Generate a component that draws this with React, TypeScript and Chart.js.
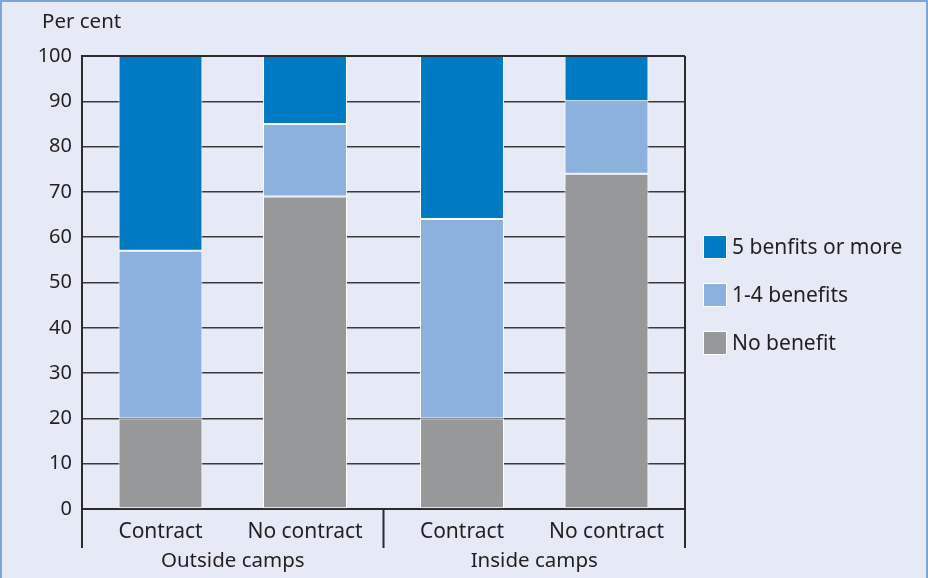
import React, { useEffect, useRef } from "react";
import { Chart, registerables } from "chart.js";

Chart.register(...registerables);

const groups = ["Outside camps", "Inside camps"];
const contractTypes = ["Contract", "No contract"];
const seriesNames = ["No benefit", "1-4 benefits", "5 benfits or more"];
const seriesColors = ["#97989a", "#8db1de", "#007bc3"];

// values per series, per contract type, across groups [Outside, Inside]
const noBenefitContract = [20, 20];
const noBenefitNoContract = [69, 74];
const oneToFourContract = [37, 44];
const oneToFourNoContract = [16, 16];
const fivePlusContract = [43, 36];
const fivePlusNoContract = [15, 10];

const yTicks = [0, 10, 20, 30, 40, 50, 60, 70, 80, 90, 100];
const yTitle = "Per cent";

const FONT = "'Noto Sans', 'Open Sans', sans-serif";
const TEXT = "#231f20";

export default function App() {
  const ref = useRef<HTMLCanvasElement | null>(null);

  useEffect(() => {
    document.body.style.margin = "0";
    const canvas = ref.current;
    if (!canvas) return;

    const bySeries = [
      [noBenefitContract, noBenefitNoContract],
      [oneToFourContract, oneToFourNoContract],
      [fivePlusContract, fivePlusNoContract],
    ];
    const datasets: any[] = [];
    contractTypes.forEach((ct, ci) => {
      seriesNames.forEach((name, si) => {
        datasets.push({
          label: name,
          data: bySeries[si][ci],
          stack: ct,
          backgroundColor: seriesColors[si],
          borderColor: "#ffffff",
          borderWidth: 1,
          borderSkipped: false,
          categoryPercentage: 0.9585,
          barPercentage: 0.581,
        });
      });
    });

    const decor = {
      id: "decor",
      afterDatasetsDraw(chart: any) {
        const { ctx, chartArea, scales } = chart;
        const x = scales.x;
        ctx.save();
        // frame
        ctx.strokeStyle = "#2b2b2b";
        ctx.lineWidth = 2;
        ctx.beginPath();
        ctx.moveTo(chartArea.left, chartArea.top);
        ctx.lineTo(chartArea.right, chartArea.top);
        ctx.moveTo(chartArea.right, chartArea.top);
        ctx.lineTo(chartArea.right, chartArea.bottom);
        ctx.stroke();
        // group dividers
        const p0 = x.getPixelForValue(0);
        const p1 = x.getPixelForValue(1);
        const divs = [chartArea.left, (p0 + p1) / 2, chartArea.right];
        ctx.beginPath();
        divs.forEach((d) => {
          ctx.moveTo(d, chartArea.bottom);
          ctx.lineTo(d, chartArea.bottom + 39);
        });
        ctx.stroke();
        // sub labels
        ctx.fillStyle = TEXT;
        ctx.font = `21px ${FONT}`;
        ctx.textAlign = "center";
        ctx.textBaseline = "middle";
        contractTypes.forEach((ct, ci) => {
          const meta = chart.getDatasetMeta(ci * seriesNames.length);
          meta.data.forEach((el: any) => {
            ctx.fillText(ct, el.x, chartArea.bottom + 23);
          });
        });
        // group labels
        ctx.font = `20.5px ${FONT}`;
        groups.forEach((g, gi) => {
          ctx.fillText(g, x.getPixelForValue(gi), chartArea.bottom + 52);
        });
        // y title
        ctx.textAlign = "left";
        ctx.font = `20.5px ${FONT}`;
        ctx.fillText(yTitle, 42, 22);
        // legend
        const midY = (chartArea.top + chartArea.bottom) / 2 + 12.5;
        const lx = chartArea.right + 19;
        ctx.font = `21px ${FONT}`;
        for (let k = 0; k < seriesNames.length; k++) {
          const si = seriesNames.length - 1 - k;
          const cy = midY + (k - 1) * 48;
          ctx.fillStyle = "#ffffff";
          ctx.fillRect(lx - 1, cy - 12, 24, 24);
          ctx.fillStyle = seriesColors[si];
          ctx.fillRect(lx, cy - 11, 22, 22);
          ctx.fillStyle = TEXT;
          ctx.fillText(seriesNames[si], lx + 28, cy + 1);
        }
        ctx.restore();
      },
    };

    const chart = new Chart(canvas, {
      type: "bar",
      data: { labels: groups, datasets },
      options: {
        animation: false,
        responsive: false,
        maintainAspectRatio: false,
        layout: { padding: { top: 56, right: 243, left: 0, bottom: 0 } },
        plugins: { legend: { display: false }, tooltip: { enabled: false } },
        scales: {
          x: {
            stacked: true,
            grid: { display: false },
            border: { display: true, color: "#2b2b2b", width: 2 },
            ticks: { display: false },
            afterFit: (s: any) => {
              s.height = 69;
            },
          },
          y: {
            stacked: true,
            min: 0,
            max: 100,
            afterBuildTicks: (s: any) => {
              s.ticks = yTicks.map((v) => ({ value: v }));
            },
            grid: { color: "#3a3a3a", lineWidth: 1.5, drawTicks: false },
            border: { display: true, color: "#2b2b2b", width: 2 },
            ticks: {
              padding: 10,
              color: TEXT,
              font: { family: FONT, size: 20 },
            },
            afterFit: (s: any) => {
              s.width = 82;
            },
          },
        },
      },
      plugins: [decor],
    });
    return () => chart.destroy();
  }, []);

  return (
    <div
      style={{
        position: "relative",
        width: 928,
        height: 578,
        background: "#e5eaf6",
        overflow: "hidden",
      }}
    >
      <canvas
        ref={ref}
        width={928}
        height={578}
        style={{ position: "absolute", left: 0, top: 0, width: 928, height: 578 }}
      />
      <div
        style={{
          position: "absolute",
          left: 0,
          top: 0,
          width: 928,
          height: 600,
          boxSizing: "border-box",
          border: "2px solid #7da7d9",
          pointerEvents: "none",
        }}
      />
    </div>
  );
}
